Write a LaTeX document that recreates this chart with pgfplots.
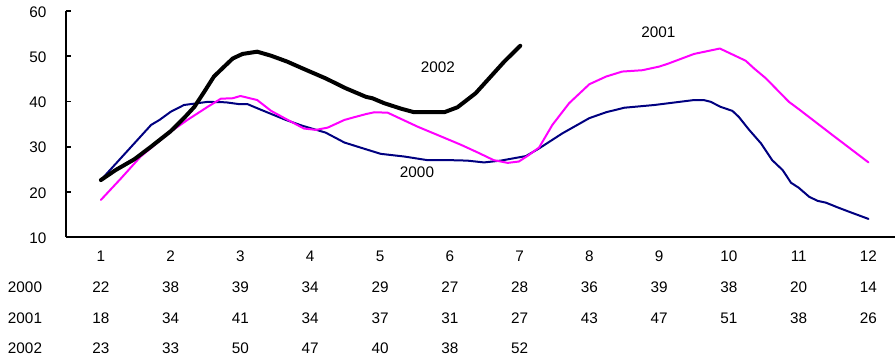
\documentclass[border=0pt]{standalone}
\usepackage{fontspec}
\setmainfont{Liberation Sans}
\usepackage{pgfplots}
\pgfplotsset{compat=1.18}
\definecolor{navyline}{RGB}{0,0,128}
\definecolor{magline}{RGB}{255,0,255}
\newcommand\tabfont{\fontsize{15.3}{30.6}\selectfont}

\begin{document}
\begin{tikzpicture}
\path[use as bounding box] (-66pt,-119pt) rectangle (829pt,237pt);
\begin{axis}[
  at={(0,0)}, anchor=south west,
  scale only axis, width=829pt, height=226pt,
  xmin=0.5, xmax=12.38, ymin=10, ymax=60,
  axis x line*=bottom, axis y line*=left,
  axis line style={-, line width=2pt, black},
  ytick={10,20,...,60},
  tick align=inside, major tick length=5pt,
  ytick style={line width=1.8pt, black},
  xtick={1,...,12},
  xtick style={draw=none},
  xticklabels={{1\\22\\18\\23},{2\\38\\34\\33},{3\\39\\41\\50},{4\\34\\34\\47},
               {5\\29\\37\\40},{6\\27\\31\\38},{7\\28\\27\\52},{8\\36\\43},
               {9\\39\\47},{10\\38\\51},{11\\20\\38},{12\\14\\26}},
  xticklabel style={font=\tabfont, align=center, anchor=north, inner sep=0.5pt, yshift=-13.6pt},
  yticklabel style={font=\fontsize{15.3}{18}\selectfont, xshift=-16pt, yshift=-1pt},
  /pgf/number format/assume math mode=true,
  clip=false,
  every axis plot/.append style={line join=round, line cap=round},
]
% 2000
\addplot[navyline, line width=2pt] coordinates {
 (1,22.6) (1.72,34.8) (1.84,35.9) (2.0,37.7) (2.19,39.2) (2.53,39.9) (2.79,39.8)
 (2.98,39.4) (3.1,39.4) (3.27,38.3) (3.65,35.9) (3.89,34.6) (4.22,33.1) (4.49,30.9)
 (4.80,29.4) (5.01,28.4) (5.35,27.8) (5.68,27.0) (6.01,27.0) (6.25,26.9) (6.49,26.5)
 (6.73,26.9) (7.09,27.9) (7.28,29.6) (7.61,32.9) (8.0,36.3) (8.24,37.6) (8.50,38.6)
 (8.93,39.2) (9.5,40.3) (9.64,40.3) (9.74,39.9) (9.88,38.8) (10.05,37.9) (10.14,36.6)
 (10.29,33.7) (10.46,30.7) (10.62,27.0) (10.77,24.8) (10.89,22.0) (11.0,20.9)
 (11.15,18.9) (11.27,18.0) (11.39,17.6) (11.55,16.6) (11.72,15.6) (12,14.0)
};
% 2001
\addplot[magline, line width=2pt] coordinates {
 (1,18.2) (1.29,23.0) (1.57,27.8) (1.86,31.5) (2.0,33.3) (2.24,35.9) (2.53,38.8)
 (2.72,40.6) (2.89,40.7) (3.0,41.2) (3.24,40.3) (3.44,37.9) (3.63,36.3) (3.91,34.0)
 (4.08,33.7) (4.25,34.2) (4.49,35.9) (4.63,36.5) (4.80,37.2) (4.92,37.6) (5.11,37.5)
 (5.54,34.4) (5.82,32.6) (6.16,30.4) (6.40,28.7) (6.63,27.0) (6.83,26.4) (6.99,26.7)
 (7.12,28.0) (7.28,29.8) (7.47,34.8) (7.71,39.6) (8.0,43.8) (8.24,45.5) (8.47,46.6)
 (8.76,46.9) (9.0,47.7) (9.12,48.3) (9.50,50.5) (9.87,51.7) (10.24,49.0) (10.36,47.3)
 (10.53,45.1) (10.86,39.9) (11.0,38.3) (11.48,32.6) (12,26.5)
};
% 2002
\addplot[black, line width=4pt] coordinates {
 (1,22.6) (1.21,24.8) (1.48,27.2) (1.72,30.0) (2.0,33.4) (2.19,36.3) (2.34,38.8)
 (2.48,42.1) (2.62,45.5) (2.74,47.3) (2.89,49.5) (3.03,50.5) (3.24,51.0) (3.44,50.1)
 (3.67,48.8) (3.89,47.3) (4.22,45.1) (4.51,42.9) (4.80,41.0) (4.89,40.7) (5.06,39.6)
 (5.3,38.4) (5.49,37.6) (5.92,37.6) (6.11,38.7) (6.37,41.8) (6.54,44.7) (6.78,48.8)
 (7.01,52.3)
};
\node[font=\fontsize{15.3}{18}\selectfont] at (axis cs:5.83,47.6) {2002};
\node[font=\fontsize{15.3}{18}\selectfont] at (axis cs:5.53,24.4) {2000};
\node[font=\fontsize{15.3}{18}\selectfont] at (axis cs:8.99,55.4) {2001};
% row captions of the data table
\node[anchor=north, font=\tabfont, align=center, inner sep=0.5pt,
      yshift=-13.6pt, xshift=-41pt] at (rel axis cs:0,0) {\phantom{1}\\2000\\2001\\2002};
\end{axis}
\end{tikzpicture}
\end{document}
